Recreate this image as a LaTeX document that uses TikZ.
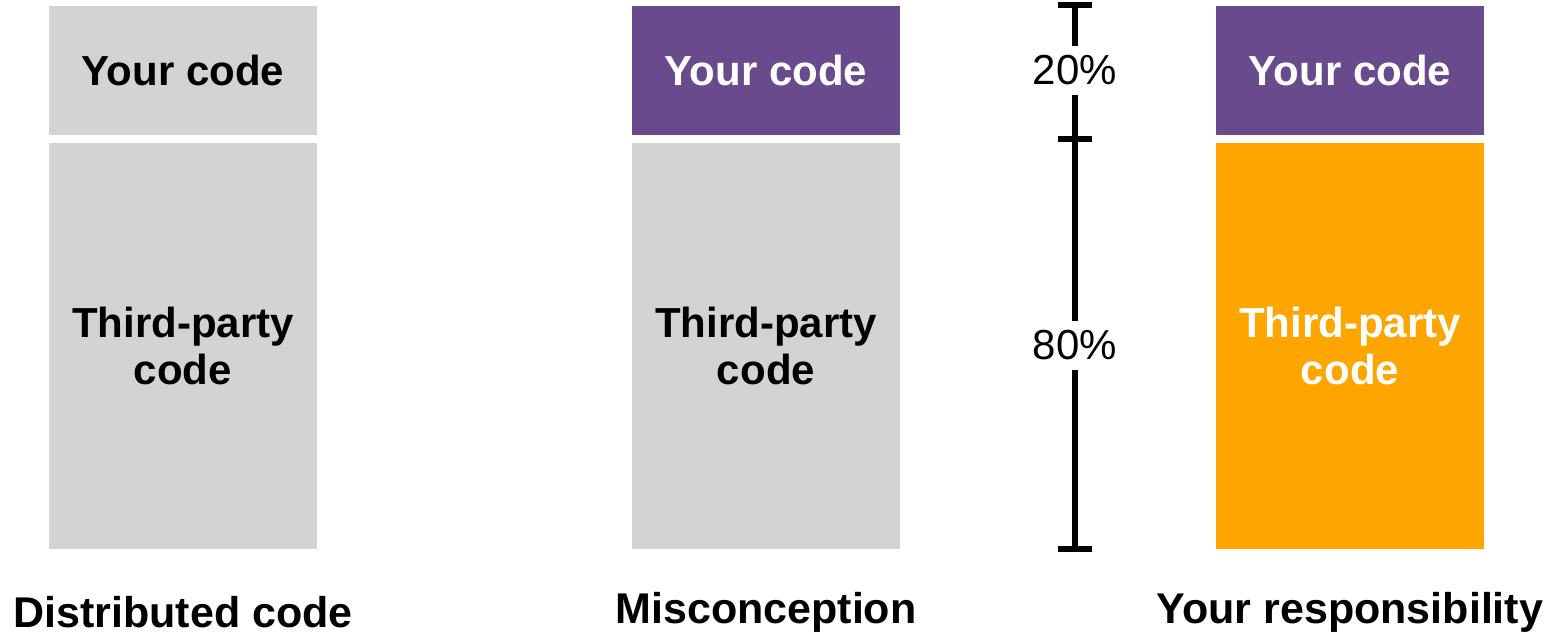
\documentclass[tikz,border=0pt]{standalone}
\usepackage{fontspec}
\setmainfont{Liberation Sans}
\usetikzlibrary{arrows.meta}

\definecolor{codegray}{HTML}{D3D3D3}
\definecolor{codepurple}{HTML}{694A8C}
\definecolor{codeorange}{HTML}{FFA500}

\tikzset{
  box/.style={minimum width=134pt, inner sep=0pt, align=center,
    font=\fontsize{21}{23.5}\selectfont\bfseries},
  topbox/.style={box, minimum height=64.5pt},
  lowbox/.style={box, minimum height=203pt},
  caption/.style={font=\fontsize{21.5}{24}\selectfont\bfseries},
  pct/.style={fill=white, inner xsep=2pt, inner ysep=5pt,
    font=\fontsize{21}{24}\selectfont},
  scalebar/.style={line width=3pt},
  bartip/.tip={Bar[width=17pt]}
}

\begin{document}
\begin{tikzpicture}[x=0.5pt, y=-0.5pt]

% Frame
\useasboundingbox (0,0) rectangle (1555,637);

% Parameters
\def\ya{70.5}  % upper box centre
\def\yb{346}   % lower box centre

% Distributed code
\node[topbox, fill=codegray] (dyour) at (183,\ya) {Your code};
\node[lowbox, fill=codegray] (dthird) at (183,\yb) {Third-party\\code};
\node[caption] (dcap) at (183,612) {Distributed code};

% Misconception
\node[topbox, fill=codepurple, text=white] (myour) at (766,\ya) {Your code};
\node[lowbox, fill=codegray] (mthird) at (766,\yb) {Third-party\\code};
\node[caption] (mcap) at (766,612) {Misconception};

% Your responsibility
\node[topbox, fill=codepurple, text=white] (ryour) at (1350,\ya) {Your code};
\node[lowbox, fill=codeorange, text=white] (rthird) at (1350,\yb) {Third-party\\code};
\node[caption] (rcap) at (1350,612) {Your responsibility};

% Share of the code
\coordinate (stop) at (1075,2);
\coordinate (smid) at (1075,139);
\coordinate (sbot) at (1075,552);
\draw[scalebar, {bartip}-] (stop) -- node[pct] (p20) {20\%} (smid);
\draw[scalebar, -{bartip}] (smid) -- node[pct] (p80) {80\%} (sbot);
\draw[scalebar] (smid) ++(-17,0) -- ++(34,0);

\end{tikzpicture}
\end{document}
